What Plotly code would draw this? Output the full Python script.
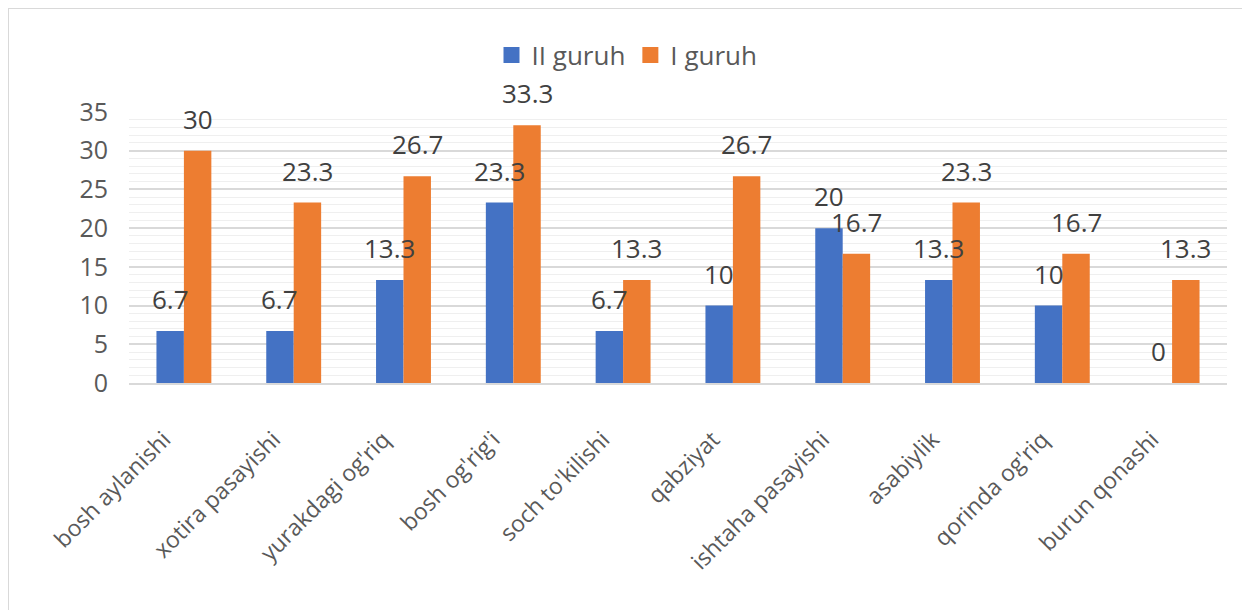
import plotly.graph_objects as go

categories = ["bosh aylanishi", "xotira pasayishi", "yurakdagi og'riq", "bosh og'rig'i",
              "soch to'kilishi", "qabziyat", "ishtaha pasayishi", "asabiylik",
              "qorinda og'riq", "burun qonashi"]
group2 = [6.7, 6.7, 13.3, 23.3, 6.7, 10, 20, 13.3, 10, 0]
group1 = [30, 23.3, 26.7, 33.3, 13.3, 26.7, 16.7, 23.3, 16.7, 13.3]
series_names = ["II guruh", "I guruh"]
colors = ["#4472C4", "#ED7D31"]

# the page body adds an 8px offset; compensate in margins
W, H = 1250, 610
ML, MR, MT, MB = 121, 31, 104, 235
BARGAP = 0.5
FONT = "Open Sans"

fig = go.Figure()
for name, vals, col in zip(series_names, [group2, group1], colors):
    fig.add_trace(go.Bar(x=categories, y=vals, name=name, marker_color=col,
                         marker_line_width=0, showlegend=False, legendgroup=name,
                         hoverinfo="x+y"))
# legend proxies (larger square symbols)
for name, col in zip(series_names, colors):
    fig.add_trace(go.Scatter(x=[None], y=[None], mode="markers", name=name,
                             legendgroup=name,
                             marker=dict(symbol="square", size=16, color=col)))

plot_w = W - ML - MR
cat_w = plot_w / len(categories)
off = cat_w * (1 - BARGAP) / 4

annotations = []
for vals, sgn in zip([group2, group1], [-1, 1]):
    for c, v in zip(categories, vals):
        annotations.append(dict(x=c, y=v, xref="x", yref="y", text=f"{v:g}",
                                showarrow=False, xshift=sgn * off, yshift=32,
                                yanchor="middle", xanchor="center",
                                font=dict(family=FONT, size=26, color="#404040")))

plot_h = H - MT - MB
x_left = (0 - ML) / plot_w
x_right = (W + 20 - ML) / plot_w
y_top = (H - MB - 0) / plot_h
y_bot = (H - MB - (H + 20)) / plot_h

fig.update_layout(
    width=W, height=H,
    margin=dict(l=ML, r=MR, t=MT, b=MB, autoexpand=False),
    plot_bgcolor="white", paper_bgcolor="white",
    barmode="group", bargap=BARGAP, bargroupgap=0,
    font=dict(family=FONT, color="#595959"),
    legend=dict(orientation="h", xref="container", x=619 / W, xanchor="center",
                yref="container", y=1 - 47 / H, yanchor="middle",
                font=dict(family=FONT, size=26, color="#595959"),
                itemclick=False, itemdoubleclick=False),
    annotations=annotations,
    shapes=[dict(type="path", xref="paper", yref="paper",
                 path=f"M {x_left},{y_bot} L {x_left},{y_top} L {x_right},{y_top}",
                 line=dict(color="#D9D9D9", width=2), layer="below")],
    xaxis=dict(tickangle=-45, tickfont=dict(family=FONT, size=23, color="#595959"),
               showgrid=False, showline=True, linecolor="#D9D9D9", linewidth=2,
               ticks="", zeroline=False, automargin=False,
               ticklabelstandoff=32, ticklabelshift=-20),
    yaxis=dict(range=[0, 35], tickmode="linear", tick0=0, dtick=5,
               tickfont=dict(family=FONT, size=25, color="#595959"),
               showgrid=True, gridcolor="#D9D9D9", gridwidth=1.5,
               minor=dict(dtick=1, showgrid=True, gridcolor="#EFEFEF", gridwidth=1),
               zeroline=False, showline=False, ticklabelstandoff=20, automargin=False),
)

fig.write_html("out.html")
